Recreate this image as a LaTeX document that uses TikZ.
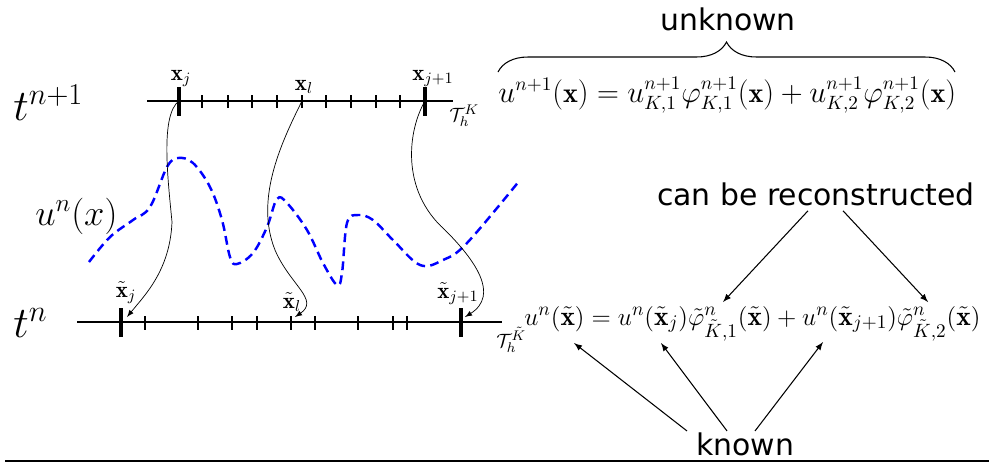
\documentclass[tikz,border=0pt]{standalone}
\usepackage{amsmath}
\usepackage{fontspec}
\newfontfamily\wordfont{DejaVu Sans}
\usetikzlibrary{decorations.pathreplacing}

\begin{document}
\begin{tikzpicture}[x=0.02cm,y=-0.02cm,
    mesh/.style={line width=1.2pt},
    node tick/.style={line width=1.8pt},
    cell tick/.style={line width=1pt},
    flow/.style={-latex,thin},
    pointer/.style={-latex,semithick},
    word/.style={font=\wordfont\fontsize{17}{20}\selectfont,inner sep=0pt},
    time/.style={font=\fontsize{27}{32}\selectfont,inner sep=0pt,anchor=base west},
    pt label/.style={font=\fontsize{13}{15}\selectfont,inner sep=0pt,anchor=base},
    mesh label/.style={font=\fontsize{11}{13}\selectfont,inner sep=0pt,anchor=base west},
    formula/.style={font=\fontsize{16}{19}\selectfont,inner sep=0pt,anchor=base west}]

  \useasboundingbox (0,0) rectangle (989,464);

  % time levels
  \node[time] (tnp) at (13,120) {$t^{n+1}$};
  \node[time] (tn) at (13,337) {$t^n$};

  % mesh at t^{n+1}
  \draw[mesh] (147,101) -- (453,101);
  \foreach \x in {202,228,252,277,302,326,351,376,400}
    \draw[cell tick] (\x,95) -- (\x,108);
  \draw[node tick] (179,87) -- (179,116) (425,87) -- (425,116);
  \coordinate (xj) at (179,101);
  \coordinate (xl) at (302,101);
  \coordinate (xk) at (425,101);
  \node[pt label] (lxj) at (181,80) {$\mathbf{x}_j$};
  \node[pt label] (lxl) at (304,90) {$\mathbf{x}_l$};
  \node[pt label] (lxk) at (433,80) {$\mathbf{x}_{j+1}$};
  \node[mesh label] (mk) at (449,121) {$\mathcal{T}_h^K$};

  % mesh at t^n
  \draw[mesh] (77,322) -- (502,322);
  \foreach \x in {145,198,232,257,291,315,358,393,407}
    \draw[cell tick] (\x,316) -- (\x,330);
  \draw[node tick] (121,308) -- (121,337) (461,308) -- (461,337);
  \coordinate (txj) at (127,317);
  \coordinate (txl) at (295,317);
  \coordinate (txk) at (465,317);
  \node[pt label] (ltxj) at (126,297) {$\tilde{\mathbf{x}}_j$};
  \node[pt label] (ltxl) at (292,308) {$\tilde{\mathbf{x}}_l$};
  \node[pt label] (ltxk) at (458,298) {$\tilde{\mathbf{x}}_{j+1}$};
  \node[mesh label] (mtk) at (496,347) {$\mathcal{T}_h^{\tilde{K}}$};

  % solution at t^n
  \draw[blue,line width=1.4pt,dash pattern=on 5pt off 3pt] plot[smooth,tension=0.6] coordinates
    {(89,262) (110,237) (133,220) (150,207) (167,167) (178,158) (193,163)
     (210,187) (222,220) (230,257) (237,264) (253,253) (267,227) (277,199)
     (287,203) (307,230) (323,263) (337,285) (342,273) (347,223) (358,215)
     (373,220) (393,240) (420,265) (443,260) (467,243) (520,180)};
  \node[font=\fontsize{20}{24}\selectfont,inner sep=0pt,anchor=base west] (un) at (35,225) {$u^n(x)$};

  % characteristics
  \draw[flow] (xj) .. controls (160,115) and (168,180) .. (172,222)
    .. controls (170,270) and (145,295) .. (txj);
  \draw[flow] (xl) .. controls (280,145) and (255,200) .. (275,250)
    .. controls (290,285) and (320,300) .. (txl);
  \draw[flow] (xk) .. controls (408,130) and (400,190) .. (445,230)
    .. controls (475,260) and (500,295) .. (txk);

  % interpolation
  \node[formula] (fnp) at (498,102)
    {$u^{n+1}(\mathbf{x}) = u^{n+1}_{K,1}\varphi^{n+1}_{K,1}(\mathbf{x}) + u^{n+1}_{K,2}\varphi^{n+1}_{K,2}(\mathbf{x})$};
  \node[formula,font=\fontsize{15.6}{18}\selectfont] (fn) at (524,325)
    {$u^n(\tilde{\mathbf{x}}) = u^n(\tilde{\mathbf{x}}_j)\tilde{\varphi}^n_{\tilde{K},1}(\tilde{\mathbf{x}}) + u^n(\tilde{\mathbf{x}}_{j+1})\tilde{\varphi}^n_{\tilde{K},2}(\tilde{\mathbf{x}})$};
  \draw[decorate,decoration={brace,amplitude=0.6cm},semithick] (498,72) -- (955,72);

  \node[word,anchor=base] (unknown) at (728,30) {unknown};
  \node[word,anchor=base] (cbr) at (816,205) {can be reconstructed};
  \node[word,anchor=base] (known) at (745,455) {known};

  \coordinate (phia) at (723,302);
  \coordinate (phib) at (928,302);
  \coordinate (ua) at (574,343);
  \coordinate (ub) at (661,343);
  \coordinate (uc) at (823,342);
  \draw[pointer] (cbr.south) ++(-8,5) -- (phia);
  \draw[pointer] (cbr.south) ++(27,5) -- (phib);
  \draw[pointer] (known.north) ++(-58,-1) -- (ua);
  \draw[pointer] (known.north) ++(-18,-1) -- (ub);
  \draw[pointer] (known.north) ++(10,-1) -- (uc);

  \draw[line width=1pt] (5,461) -- (989,461);
\end{tikzpicture}
\end{document}
